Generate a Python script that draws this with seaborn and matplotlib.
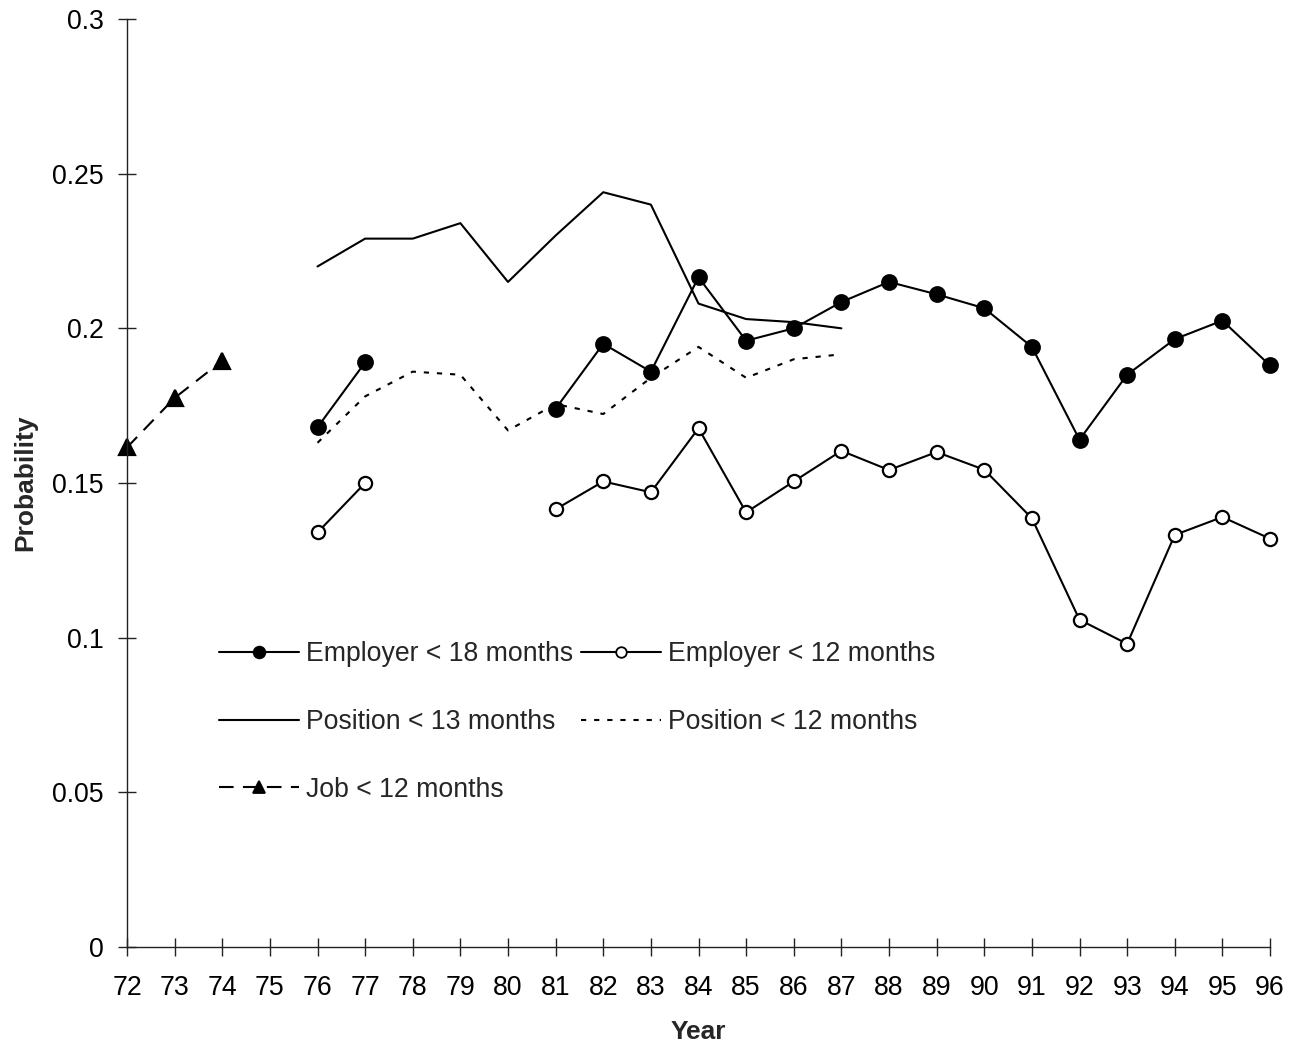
import numpy as np
import pandas as pd
import matplotlib
matplotlib.use("Agg")
import matplotlib.pyplot as plt
from matplotlib.lines import Line2D
import seaborn as sns

nan = np.nan

# Datos
years = list(range(72, 97))
employer_18 = [nan, nan, nan, nan, 0.168, 0.189, nan, nan, nan,
               0.174, 0.195, 0.186, 0.2165, 0.196, 0.200, 0.2085, 0.215,
               0.211, 0.2065, 0.194, 0.164, 0.185, 0.1965, 0.2025, 0.188]
employer_12 = [nan, nan, nan, nan, 0.134, 0.150, nan, nan, nan,
               0.1415, 0.1505, 0.147, 0.1677, 0.1405, 0.1505, 0.1604, 0.1542,
               0.160, 0.1543, 0.1386, 0.1058, 0.098, 0.1332, 0.139, 0.132]
position_13 = [nan, nan, nan, nan, 0.220, 0.229, 0.229, 0.234, 0.215,
               0.230, 0.244, 0.240, 0.208, 0.203, 0.202, 0.200,
               nan, nan, nan, nan, nan, nan, nan, nan, nan]
position_12 = [nan, nan, nan, nan, 0.163, 0.178, 0.186, 0.185, 0.167,
               0.1755, 0.1723, 0.184, 0.194, 0.184, 0.190, 0.1916,
               nan, nan, nan, nan, nan, nan, nan, nan, nan]
job_12 = [0.1615, 0.1775, 0.1895] + [nan] * 22

sns.set_theme(style="ticks")
plt.rcParams["font.family"] = ["Liberation Sans", "DejaVu Sans"]

fig = plt.figure(figsize=(12.9, 10.47), dpi=100)
ax = fig.add_axes([127 / 1290, 1 - 947 / 1047, (1270 - 127) / 1290, (947 - 19) / 1047])

lw = 1.5
fs = 19.2
styles = {
    "Employer < 18 months": dict(marker="o", markersize=10.5, markerfacecolor="black",
                                 linestyle="-"),
    "Employer < 12 months": dict(marker="o", markersize=9.5, markerfacecolor="white",
                                 linestyle="-"),
    "Position < 13 months": dict(marker=None, linestyle="-"),
    "Position < 12 months": dict(marker=None, linestyle=(0, (2.5, 3.8))),
    "Job < 12 months": dict(marker="^", markersize=11, markerfacecolor="black",
                            linestyle=(0, (7, 4.5))),
}
series = {
    "Employer < 18 months": employer_18,
    "Employer < 12 months": employer_12,
    "Position < 13 months": position_13,
    "Position < 12 months": position_12,
    "Job < 12 months": job_12,
}

# dibujar cada tramo continuo por separado (los huecos no se unen)
for name, vals in series.items():
    df = pd.DataFrame({"year": years, "value": vals})
    df["seg"] = df["value"].isna().cumsum()
    df = df.dropna()
    for _, seg in df.groupby("seg"):
        sns.lineplot(data=seg, x="year", y="value", ax=ax, color="black", linewidth=lw,
                     markeredgecolor="black", markeredgewidth=1.6, clip_on=False,
                     **styles[name])

ax.set_xlim(72, 96)
ax.set_ylim(0, 0.3)
ax.set_xticks(years)
ax.set_xticklabels([str(y) for y in years])
ax.set_yticks([0, 0.05, 0.1, 0.15, 0.2, 0.25, 0.3])
ax.set_yticklabels(["0", "0.05", "0.1", "0.15", "0.2", "0.25", "0.3"])
ax.tick_params(axis="both", direction="inout", length=13, width=1, color="#222222",
               labelsize=fs, labelcolor="black")
ax.tick_params(axis="y", pad=10)
ax.tick_params(axis="x", pad=14)
for s in ["top", "right"]:
    ax.spines[s].set_visible(False)
for s in ["left", "bottom"]:
    ax.spines[s].set_color("#222222")
    ax.spines[s].set_linewidth(1)

ax.set_xlabel("Year", fontsize=19, fontweight="bold", labelpad=13)
ax.set_ylabel("Probability", fontsize=19, fontweight="bold", labelpad=11)

# leyenda en el orden del original (por columnas)
order = ["Employer < 18 months", "Position < 13 months", "Job < 12 months",
         "Employer < 12 months", "Position < 12 months"]
handles = [Line2D([], [], color="black", linewidth=lw, markeredgecolor="black",
                  markeredgewidth=1.3, **styles[n]) for n in order]
ax.legend(handles, order, ncol=2, frameon=False, fontsize=fs, markerscale=0.8,
          handlelength=3.0, handletextpad=0.26, columnspacing=0.3, labelspacing=1.57,
          borderpad=0, borderaxespad=0, loc="upper left",
          bbox_to_anchor=(219 / 1290, 1 - 641 / 1047), bbox_transform=fig.transFigure)

fig.savefig("out.png", dpi=100)
